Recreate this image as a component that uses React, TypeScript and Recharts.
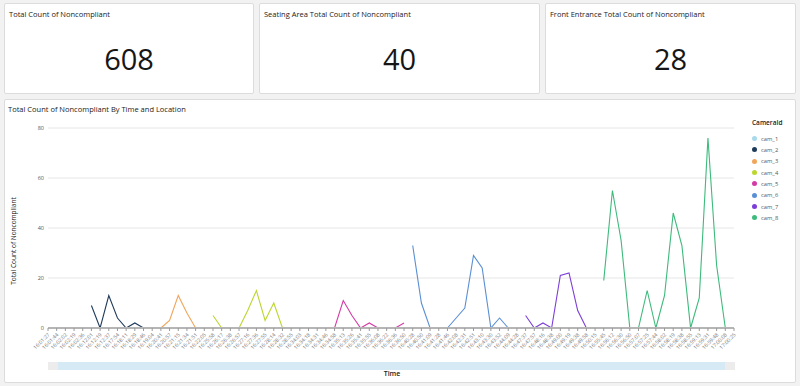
import React from "react";
import { LineChart, Line, XAxis, YAxis, CartesianGrid } from "recharts";

// time buckets on the x axis
const times = [
  "16:01:27", "16:01:44", "16:02:02", "16:02:19", "16:02:36", "16:12:01", "16:12:19", "16:12:37",
  "16:17:54", "16:18:11", "16:18:29", "16:18:46", "16:19:04", "16:20:41", "16:20:57", "16:21:15",
  "16:21:34", "16:21:51", "16:22:05", "16:25:58", "16:26:17", "16:26:38", "16:26:57", "16:27:16",
  "16:27:36", "16:27:55", "16:28:14", "16:28:32", "16:28:55", "16:34:03", "16:34:18", "16:34:31",
  "16:34:46", "16:34:58", "16:35:13", "16:35:26", "16:35:41", "16:35:55", "16:36:08", "16:36:22",
  "16:36:36", "16:36:50", "16:40:28", "16:40:50", "16:41:09", "16:41:28", "16:41:46", "16:42:08",
  "16:42:31", "16:42:51", "16:43:10", "16:43:30", "16:43:52", "16:44:09", "16:44:28", "16:47:37",
  "16:47:57", "16:48:16", "16:48:38", "16:49:00", "16:49:19", "16:49:38", "16:49:58", "16:50:15",
  "16:55:45", "16:56:12", "16:56:30", "16:56:50", "16:57:07", "16:57:25", "16:57:44", "16:58:02",
  "16:58:19", "16:58:38", "16:58:55", "16:59:13", "16:59:31", "16:59:48", "17:00:08", "17:00:25",
];

// counts per camera, each starting at the given time index
const cam1 = [0, 0, 0, 0, 0];
const cam2 = [9, 0, 13, 4, 0, 2, 0, 0];
const cam3 = [0, 3, 13, 6, 0, 0];
const cam4 = [5, 0, 0, 0, 7, 15, 3, 10, 0, 0];
const cam5 = [0, 0, 0, 0, 0, 11, 5, 0, 2, 0, 0, 0, 2];
const cam6 = [33, 10, 0, 0, 0, 4, 8, 29, 24, 0, 4, 0];
const cam7 = [5, 0, 2, 0, 21, 22, 7, 0, 0];
const cam8 = [19, 55, 35, 0, 0, 15, 0, 13, 46, 33, 0, 12, 76, 25, 0, 0];

const yTicks = [0, 20, 40, 60, 80];

const kpis = [
  { title: "Total Count of Noncompliant", value: "608" },
  { title: "Seating Area Total Count of Noncompliant", value: "40" },
  { title: "Front Entrance Total Count of Noncompliant", value: "28" },
];

const cameras = [
  { key: "cam_1", start: 0, values: cam1, color: "#a9d9ea" },
  { key: "cam_2", start: 5, values: cam2, color: "#1f3b5b" },
  { key: "cam_3", start: 13, values: cam3, color: "#f0a65c" },
  { key: "cam_4", start: 19, values: cam4, color: "#bcd630" },
  { key: "cam_5", start: 29, values: cam5, color: "#d43ba6" },
  { key: "cam_6", start: 42, values: cam6, color: "#5a8fd4" },
  { key: "cam_7", start: 55, values: cam7, color: "#7b3fd8" },
  { key: "cam_8", start: 64, values: cam8, color: "#3dba7c" },
];

const data = times.map((t, i) => {
  const row: Record<string, any> = { time: t };
  cameras.forEach((c) => {
    const j = i - c.start;
    row[c.key] = j >= 0 && j < c.values.length ? c.values[j] : null;
  });
  return row;
});

const font = "'Open Sans', 'Noto Sans', sans-serif";

const card: React.CSSProperties = {
  position: "absolute",
  background: "#fff",
  border: "1px solid #dcdcdc",
  borderRadius: 2,
  boxSizing: "border-box",
};

const TimeTick = ({ x, y, payload }: any) => (
  <g transform={`translate(${x},${y})`}>
    <text x={0} y={0} dy={3} textAnchor="end" fontSize={5.2} fill="#777" fontFamily={font} transform="rotate(-45)">
      {payload.value}
    </text>
  </g>
);

export default function App() {
  const kpiBoxes = [
    { left: 4, width: 250 },
    { left: 259, width: 281 },
    { left: 545, width: 251 },
  ];
  return (
    <div style={{ position: "absolute", left: 0, top: 0, width: 800, height: 386, background: "#f2f2f2", fontFamily: font, overflow: "hidden" }}>
      {kpis.map((k, i) => (
        <div key={k.title} style={{ ...card, left: kpiBoxes[i].left, top: 3, width: kpiBoxes[i].width, height: 91 }}>
          <div style={{ position: "absolute", left: 4, top: 5, fontSize: 7.5, color: "#222" }}>{k.title}</div>
          <div style={{ position: "absolute", left: 0, right: 0, top: 36, textAlign: "center", fontSize: 29, color: "#161616", lineHeight: "38px" }}>
            {k.value}
          </div>
        </div>
      ))}

      <div style={{ ...card, left: 4, top: 99, width: 792, height: 284 }} />
      <div style={{ position: "absolute", left: 8, top: 104, fontSize: 7.5, color: "#222" }}>
        Total Count of Noncompliant By Time and Location
      </div>
      <div
        style={{
          position: "absolute",
          left: 13,
          top: 241,
          fontSize: 6.5,
          color: "#222",
          whiteSpace: "nowrap",
          transform: "translate(-50%, -50%) rotate(-90deg)",
        }}
      >
        Total Count of Noncompliant
      </div>

      <div style={{ position: "absolute", left: 0, top: 0 }}>
        <LineChart width={800} height={386} data={data} margin={{ top: 128, right: 66, bottom: 28, left: 18 }}>
          <CartesianGrid vertical={false} stroke="#e6e6e6" strokeWidth={1} />
          <XAxis
            dataKey="time"
            interval={0}
            height={30}
            tick={<TimeTick />}
            tickSize={3}
            tickLine={{ stroke: "#9a9a9a" }}
            axisLine={{ stroke: "#b5b5b5", strokeWidth: 2 }}
          />
          <YAxis
            width={30}
            domain={[0, 80]}
            ticks={yTicks}
            axisLine={false}
            tickLine={false}
            tickSize={2}
            tickMargin={2}
            tick={{ fontSize: 5.5, fill: "#555", fontFamily: font }}
          />
          {cameras.map((c) => (
            <Line
              key={c.key}
              dataKey={c.key}
              type="linear"
              stroke={c.color}
              strokeWidth={1.1}
              dot={false}
              activeDot={false}
              isAnimationActive={false}
            />
          ))}
        </LineChart>
      </div>

      {/* scroll bar under the axis */}
      <div style={{ position: "absolute", left: 48, top: 362, width: 10, height: 8, background: "#ececec" }} />
      <div style={{ position: "absolute", left: 58, top: 362, width: 667, height: 8, background: "#d6eaf6" }} />
      <div style={{ position: "absolute", left: 725, top: 362, width: 10, height: 8, background: "#ececec" }} />
      <div style={{ position: "absolute", left: 0, width: 784, top: 369, textAlign: "center", fontSize: 7, fontWeight: 600, color: "#222" }}>
        Time
      </div>

      <div style={{ position: "absolute", left: 752, top: 118 }}>
        <div style={{ fontSize: 6.5, fontWeight: 600, color: "#222", marginBottom: 6 }}>CameraId</div>
        {cameras.map((c) => (
          <div key={c.key} style={{ display: "flex", alignItems: "center", height: 11.33 }}>
            <span style={{ width: 5, height: 5, borderRadius: "50%", background: c.color, marginRight: 4 }} />
            <span style={{ fontSize: 5.8, color: "#555" }}>{c.key}</span>
          </div>
        ))}
      </div>
    </div>
  );
}
